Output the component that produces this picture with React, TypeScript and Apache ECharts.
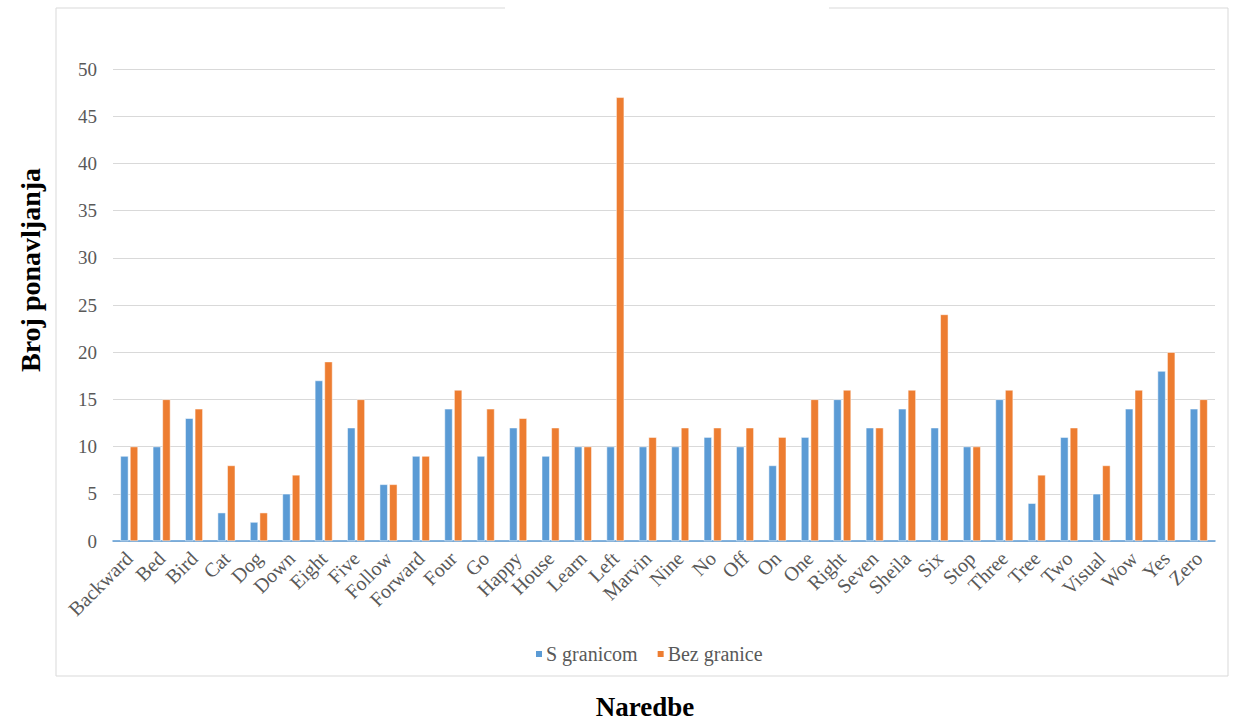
import React, { useEffect, useRef } from "react";
import * as echarts from "echarts";

const categories = ["Backward","Bed","Bird","Cat","Dog","Down","Eight","Five","Follow","Forward","Four","Go","Happy","House","Learn","Left","Marvin","Nine","No","Off","On","One","Right","Seven","Sheila","Six","Stop","Three","Tree","Two","Visual","Wow","Yes","Zero"];
const sGranicom = [9,10,13,3,2,5,17,12,6,9,14,9,12,9,10,10,10,10,11,10,8,11,15,12,14,12,10,15,4,11,5,14,18,14];
const bezGranice = [10,15,14,8,3,7,19,15,6,9,16,14,13,12,10,47,11,12,12,12,11,15,16,12,16,24,10,16,7,12,8,16,20,15];
const seriesNames = ["S granicom", "Bez granice"];
const xTitle = "Naredbe";
const yTitle = "Broj ponavljanja";

const FONT = "Liberation Serif";

export default function App() {
  const ref = useRef<HTMLDivElement>(null);
  useEffect(() => {
    if (!ref.current) return;
    const chart = echarts.init(ref.current, null, { renderer: "svg" });
    chart.setOption({
      animation: false,
      backgroundColor: "#ffffff",
      textStyle: { fontFamily: FONT },
      graphic: [
        { type: "rect", shape: { x: 56, y: 8, width: 1172, height: 668 }, style: { fill: "none", stroke: "#d9d9d9", lineWidth: 1 }, z: -1 },
        { type: "line", shape: { x1: 505, y1: 8, x2: 829, y2: 8 }, style: { stroke: "#ffffff", lineWidth: 3 }, z: 0 },
        {
          type: "text", x: 645, y: 707,
          style: { text: xTitle, fontFamily: FONT, fontSize: 27, fontWeight: "bold", fill: "#000000", align: "center", verticalAlign: "middle" },
        },
        {
          type: "text", x: 30, y: 270, rotation: Math.PI / 2,
          style: { text: yTitle, fontFamily: FONT, fontSize: 28, fontWeight: "bold", fill: "#000000", align: "center", verticalAlign: "middle" },
        },
      ],
      grid: { left: 113, right: 18, top: 69, bottom: 181, containLabel: false, outerBoundsMode: "none" },
      legend: {
        data: seriesNames,
        left: 529,
        top: 639,
        itemWidth: 8,
        itemHeight: 8,
        itemGap: 18,
        icon: "rect",
        textStyle: { fontFamily: FONT, fontSize: 20, color: "#595959", padding: [0, 0, 0, -2] },
      },
      xAxis: {
        type: "category",
        data: categories,
        axisLine: { lineStyle: { color: "#5B9BD5", width: 1.5 } },
        axisTick: { show: false },
        axisLabel: { rotate: 45, fontFamily: FONT, fontSize: 20, color: "#595959", margin: 14, interval: 0 },
      },
      yAxis: {
        type: "value",
        min: 0,
        max: 50,
        interval: 5,
        axisLine: { show: false },
        axisTick: { show: false },
        axisLabel: { fontFamily: FONT, fontSize: 19, color: "#595959", margin: 16 },
        splitLine: { lineStyle: { color: "#d9d9d9", width: 1 } },
      },
      series: [
        {
          name: seriesNames[0],
          type: "bar",
          data: sGranicom,
          barWidth: 8,
          barGap: "20%",
          itemStyle: { color: "#5B9BD5", borderColor: "#ffffff", borderWidth: 0.5 },
        },
        {
          name: seriesNames[1],
          type: "bar",
          data: bezGranice,
          barWidth: 8,
          barGap: "20%",
          itemStyle: { color: "#ED7D31", borderColor: "#ffffff", borderWidth: 0.5 },
        },
      ],
    });
    return () => chart.dispose();
  }, []);
  return <div ref={ref} style={{ position: "fixed", left: 0, top: 0, width: 1233, height: 722 }} />;
}
